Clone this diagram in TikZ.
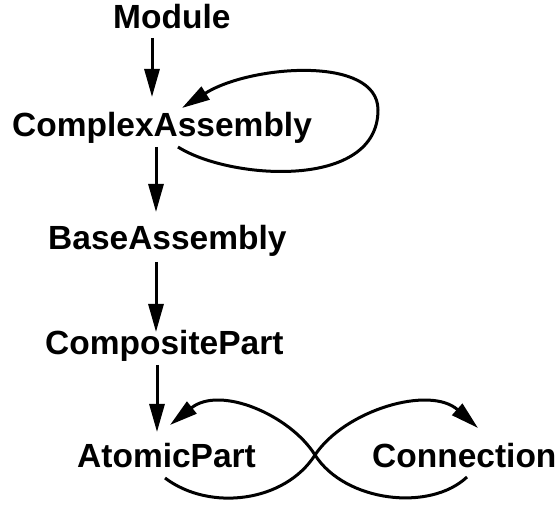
\documentclass[tikz,border=0pt]{standalone}
\usepackage{fontspec}
\setmainfont{Liberation Sans}
\usetikzlibrary{arrows.meta,calc}
\begin{document}
\begin{tikzpicture}[x=1pt,y=-1pt,
  lbl/.style={anchor=base west,inner sep=0pt,font=\fontsize{33.5}{40}\selectfont\bfseries},
  arr/.style={line width=3pt,-{Triangle[length=28pt,width=15pt]}}]
\useasboundingbox (0,0) rectangle (555,510);
\node[lbl] (m)  at (113,29)  {Module};
\node[lbl] (ca) at (12,137)  {ComplexAssembly};
\node[lbl] (ba) at (48,250)  {BaseAssembly};
\node[lbl] (cp) at (45,355)  {CompositePart};
\node[lbl] (ap) at (77,468)  {AtomicPart};
\node[lbl] (cn) at (372,468) {Connection};
% vertical arrows
\draw[arr] ($(m.base west)+(39,9)$) -- ($(ca.base west)+(140,-40)$);
\draw[arr] ($(ca.base west)+(144,10)$) -- ($(ba.base west)+(108,-38)$);
\draw[arr] ($(ba.base west)+(108,12)$) -- ($(cp.base west)+(111,-23)$);
\draw[arr] ($(cp.base west)+(112,10)$) -- ($(ap.base west)+(80,-36)$);
% self loop on ComplexAssembly
\draw[arr] ($(ca.base west)+(166,10)$) .. controls (230,180) and (378,190) .. (378,110)
  .. controls (378,55) and (250,65) .. ($(ca.base west)+(170,-29)$);
% AtomicPart -> Connection
\draw[arr] ($(ap.base west)+(88,10)$) .. controls (210,512) and (285,502) .. (315,455)
  .. controls (345,410) and (430,385) .. ($(cn.base west)+(106,-40)$);
% Connection -> AtomicPart
\draw[arr] ($(cn.base west)+(95,9)$) .. controls (430,512) and (345,502) .. (315,455)
  .. controls (290,415) and (220,385) .. ($(ap.base west)+(93,-43)$);
\end{tikzpicture}
\end{document}
